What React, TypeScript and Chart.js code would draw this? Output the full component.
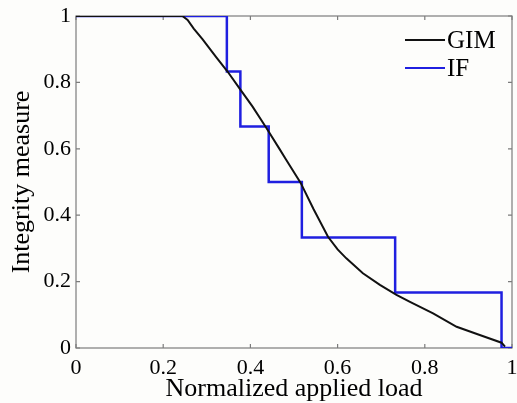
import { useEffect, useRef } from "react";
import { Chart, registerables } from "chart.js";

Chart.register(...registerables);

const X_TICKS = [0, 0.2, 0.4, 0.6, 0.8, 1];
const Y_TICKS = [0, 0.2, 0.4, 0.6, 0.8, 1];

const GIM_X = [0, 0.244, 0.256, 0.27, 0.29, 0.321, 0.348, 0.375, 0.405, 0.436, 0.467, 0.482, 0.515, 0.545, 0.578, 0.6, 0.62, 0.658, 0.697, 0.735, 0.766, 0.819, 0.873, 0.926, 0.976, 0.984];
const GIM_Y = [1, 1, 0.988, 0.962, 0.93, 0.877, 0.832, 0.782, 0.727, 0.664, 0.599, 0.567, 0.498, 0.418, 0.335, 0.297, 0.27, 0.225, 0.19, 0.16, 0.139, 0.104, 0.064, 0.039, 0.016, 0.004];

const IF_X = [0, 0.346, 0.377, 0.442, 0.518, 0.732, 0.976, 1];
const IF_Y = [1, 0.833, 0.667, 0.5, 0.333, 0.167, 0, 0];

const SERIES_LABELS = ["GIM", "IF"];
const SERIES_COLORS = ["#111111", "#1f1fe0"];
const X_TITLE = "Normalized applied load";
const Y_TITLE = "Integrity measure";

const FAMILY = '"Liberation Serif", "Times New Roman", serif';

const boxPlugin = {
  id: "matlabBox",
  beforeDatasetsDraw(chart: any) {
    const { ctx, chartArea: a, scales } = chart;
    ctx.save();
    ctx.strokeStyle = "#7c7c7c";
    ctx.lineWidth = 1.2;
    ctx.strokeRect(a.left, a.top, a.right - a.left, a.bottom - a.top);
    const tl = 4;
    ctx.beginPath();
    X_TICKS.forEach((v) => {
      const px = scales.x.getPixelForValue(v);
      ctx.moveTo(px, a.bottom);
      ctx.lineTo(px, a.bottom - tl);
      ctx.moveTo(px, a.top);
      ctx.lineTo(px, a.top + tl);
    });
    Y_TICKS.forEach((v) => {
      const py = scales.y.getPixelForValue(v);
      ctx.moveTo(a.left, py);
      ctx.lineTo(a.left + tl, py);
      ctx.moveTo(a.right, py);
      ctx.lineTo(a.right - tl, py);
    });
    ctx.stroke();
    ctx.restore();
  },
};

const legendPlugin = {
  id: "innerLegend",
  afterDatasetsDraw(chart: any) {
    const { ctx, chartArea: a } = chart;
    ctx.save();
    chart.data.datasets.forEach((ds: any, i: number) => {
      const y = a.top + 24 + i * 28;
      ctx.strokeStyle = ds.borderColor;
      ctx.lineWidth = 2;
      ctx.beginPath();
      ctx.moveTo(a.right - 107, y);
      ctx.lineTo(a.right - 67, y);
      ctx.stroke();
      ctx.fillStyle = "#000";
      ctx.font = `25px ${FAMILY}`;
      ctx.textBaseline = "middle";
      ctx.textAlign = "left";
      ctx.fillText(ds.label, a.right - 65, y + 1);
    });
    ctx.restore();
  },
};

export default function App() {
  const ref = useRef<HTMLCanvasElement | null>(null);

  useEffect(() => {
    if (!ref.current) return;
    const chart = new Chart(ref.current, {
      type: "line",
      data: {
        datasets: [
          {
            label: SERIES_LABELS[0],
            data: GIM_X.map((x, i) => ({ x, y: GIM_Y[i] })),
            borderColor: SERIES_COLORS[0],
            borderWidth: 2,
            pointRadius: 0,
            tension: 0,
          },
          {
            label: SERIES_LABELS[1],
            data: IF_X.map((x, i) => ({ x, y: IF_Y[i] })),
            borderColor: SERIES_COLORS[1],
            borderWidth: 2.5,
            pointRadius: 0,
            stepped: true,
          },
        ],
      },
      options: {
        animation: false,
        responsive: false,
        maintainAspectRatio: false,
        devicePixelRatio: 1,
        layout: { padding: { top: 16, right: 5, left: 0, bottom: 0 } },
        plugins: { legend: { display: false }, tooltip: { enabled: false } },
        scales: {
          x: {
            type: "linear",
            min: 0,
            max: 1,
            grid: { display: false, drawTicks: false },
            border: { display: false },
            afterFit(s: any) {
              s.height = 55;
              s.paddingLeft = 0;
              s.paddingRight = 0;
            },
            afterBuildTicks(s: any) {
              s.ticks = X_TICKS.map((v) => ({ value: v }));
            },
            ticks: {
              padding: 7,
              autoSkip: false,
              maxRotation: 0,
              color: "#000",
              font: { family: FAMILY, size: 22 },
              callback: (v: any) => String(v),
            },
            title: {
              display: true,
              text: X_TITLE,
              color: "#000",
              font: { family: FAMILY, size: 26 },
              padding: { top: 0, bottom: -2 },
            },
          },
          y: {
            type: "linear",
            min: 0,
            max: 1,
            grid: { display: false, drawTicks: false },
            border: { display: false },
            afterFit(s: any) {
              s.width = 76;
              s.paddingTop = 0;
              s.paddingBottom = 0;
            },
            afterBuildTicks(s: any) {
              s.ticks = Y_TICKS.map((v) => ({ value: v }));
            },
            ticks: {
              padding: 5,
              autoSkip: false,
              color: "#000",
              font: { family: FAMILY, size: 22 },
              callback: (v: any) => String(v),
            },
            title: {
              display: true,
              text: Y_TITLE,
              color: "#000",
              font: { family: FAMILY, size: 26 },
              padding: { top: 7, bottom: 0 },
            },
          },
        },
      },
      plugins: [boxPlugin, legendPlugin],
    });
    return () => chart.destroy();
  }, []);

  return (
    <div style={{ position: "absolute", left: 0, top: 0, width: 517, height: 403, background: "#fdfdfb" }}>
      <canvas ref={ref} width={517} height={403} style={{ display: "block", width: 517, height: 403 }} />
    </div>
  );
}
